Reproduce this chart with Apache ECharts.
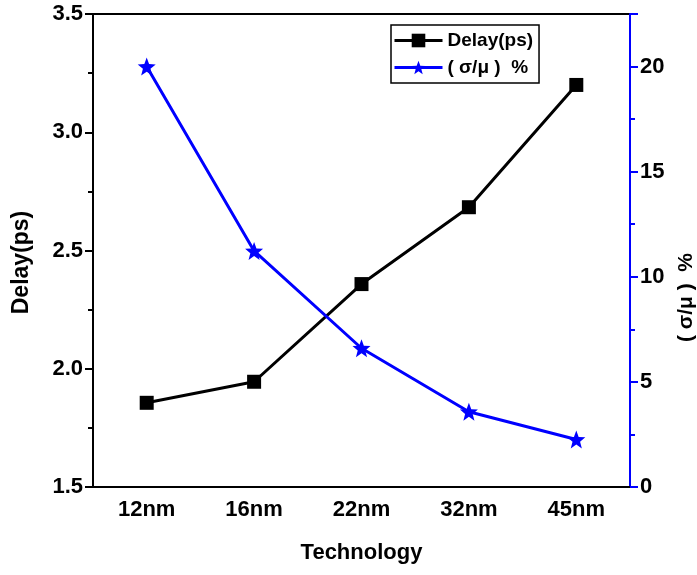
<!DOCTYPE html>
<html>
<head>
<meta charset="utf-8">
<script src="https://cdn.jsdelivr.net/npm/echarts@6/dist/echarts.min.js"></script>
<style>
html,body{margin:0;padding:0;background:#fff;}
#c{width:697px;height:575px;}
</style>
</head>
<body>
<div id="c"></div>
<script>
const categories = ['12nm', '16nm', '22nm', '32nm', '45nm'];
const delayPs = [1.856, 1.945, 2.358, 2.683, 3.200];
const sigmaMuPct = [20.0, 11.23, 6.60, 3.58, 2.26];
const leftTicks = [1.5, 2.0, 2.5, 3.0, 3.5];
const rightTicks = [0, 5, 10, 15, 20];

const FONT = '"Liberation Sans", Arial, sans-serif';
const starPath = 'path://M50,0 L62.5,33 L97.6,34.5 L70,56.5 L79.4,90.5 L50,71 L20.6,90.5 L30,56.5 L2.4,34.5 L37.5,33 Z';

const chart = echarts.init(document.getElementById('c'), null, {renderer: 'canvas'});
chart.setOption({
  backgroundColor: '#fff',
  animation: false,
  textStyle: {fontFamily: FONT},
  grid: {left: 93, right: 67, top: 14, bottom: 88, containLabel: false, outerBoundsMode: 'none',
    show: true, borderColor: '#000', borderWidth: 2, backgroundColor: 'transparent'},
  legend: {
    orient: 'vertical',
    left: 391, top: 25,
    padding: [6, 6, 6, 2],
    itemWidth: 48, itemHeight: 17, itemGap: 8,
    borderColor: '#000', borderWidth: 1.5,
    lineStyle: {width: 3},
    textStyle: {fontFamily: FONT, fontWeight: 'bold', fontSize: 19, color: '#000'},
    data: ['Delay(ps)', '( σ/μ )  %']
  },
  xAxis: [{
    type: 'category', data: categories, position: 'bottom', boundaryGap: true,
    name: 'Technology', nameLocation: 'middle', nameGap: 55,
    nameTextStyle: {fontFamily: FONT, fontWeight: 'bold', fontSize: 22, color: '#000'},
    axisLine: {lineStyle: {color: '#000', width: 2}},
    axisTick: {alignWithLabel: true, length: 8, lineStyle: {color: '#000', width: 2}},
    axisLabel: {fontFamily: FONT, fontWeight: 'bold', fontSize: 22, color: '#000', margin: 12},
    splitLine: {show: false}
  }, {
    type: 'category', data: categories, position: 'bottom', boundaryGap: true,
    axisLine: {show: false},
    axisTick: {alignWithLabel: false, length: 5, lineStyle: {color: '#000', width: 2}},
    axisLabel: {show: false},
    splitLine: {show: false}
  }],
  yAxis: [{
    type: 'value', position: 'left', min: leftTicks[0], max: leftTicks[leftTicks.length - 1], interval: 0.5,
    name: 'Delay(ps)', nameLocation: 'middle', nameGap: 60,
    nameTextStyle: {fontFamily: FONT, fontWeight: 'bold', fontSize: 23, color: '#000', padding: [0, 24, 0, 0]},
    axisLine: {show: true, lineStyle: {color: '#000', width: 2}},
    axisTick: {show: true, length: 8, lineStyle: {color: '#000', width: 2}},
    minorTick: {show: true, splitNumber: 2, length: 5, lineStyle: {color: '#000', width: 2}},
    axisLabel: {fontFamily: FONT, fontWeight: 'bold', fontSize: 22, color: '#000', margin: 10, formatter: v => v.toFixed(1)},
    splitLine: {show: false}
  }, {
    type: 'value', position: 'right', min: 0, max: 22.5, interval: 5,
    name: '( σ/μ )  %', nameLocation: 'middle', nameGap: 45,
    nameTextStyle: {fontFamily: FONT, fontWeight: 'bold', fontSize: 21, color: '#000', padding: [0, 94, 0, 0]},
    axisLine: {show: true, lineStyle: {color: '#0000ff', width: 2}},
    axisTick: {show: true, length: 8, lineStyle: {color: '#0000ff', width: 2}},
    axisLabel: {fontFamily: FONT, fontWeight: 'bold', fontSize: 22, color: '#000', margin: 10,
      formatter: v => (rightTicks.indexOf(v) >= 0 ? String(v) : '')},
    splitLine: {show: false}
  }, {
    type: 'value', position: 'right', min: 0, max: 22.5, interval: 2.5,
    axisLine: {show: false},
    axisTick: {show: true, length: 5, lineStyle: {color: '#0000ff', width: 2}},
    axisLabel: {show: false},
    splitLine: {show: false}
  }],
  series: [{
    name: 'Delay(ps)', type: 'line', xAxisIndex: 0, yAxisIndex: 0, data: delayPs,
    symbol: 'rect', symbolSize: 14,
    lineStyle: {color: '#000', width: 3}, itemStyle: {color: '#000'}, z: 3
  }, {
    name: '( σ/μ )  %', type: 'line', xAxisIndex: 0, yAxisIndex: 1, data: sigmaMuPct,
    symbol: starPath, symbolSize: 18,
    lineStyle: {color: '#0000ff', width: 3}, itemStyle: {color: '#0000ff'}, z: 3
  }]
});
</script>
</body>
</html>
